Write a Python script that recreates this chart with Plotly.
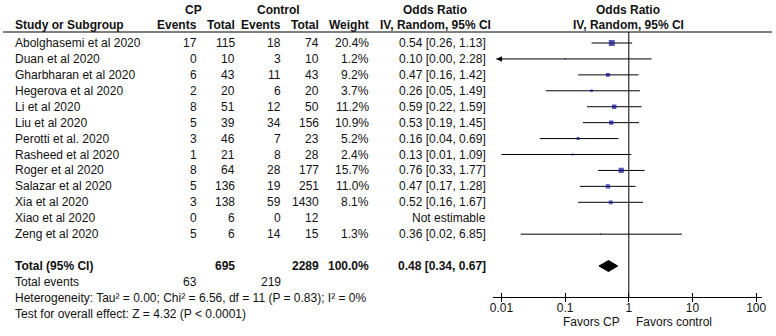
import math
import plotly.graph_objects as go

# ---------------- data ----------------
studies = ["Abolghasemi et al 2020", "Duan et al 2020", "Gharbharan et al 2020",
           "Hegerova et al 2020", "Li et al 2020", "Liu et al 2020",
           "Perotti et al. 2020", "Rasheed et al 2020", "Roger et al 2020",
           "Salazar et al 2020", "Xia et al 2020", "Xiao et al 2020", "Zeng et al 2020"]
cp_events = [17, 0, 6, 2, 8, 5, 3, 1, 8, 5, 3, 0, 5]
cp_total = [115, 10, 43, 20, 51, 39, 46, 21, 64, 136, 138, 6, 6]
ctrl_events = [18, 3, 11, 6, 12, 34, 7, 8, 28, 19, 59, 0, 14]
ctrl_total = [74, 10, 43, 20, 50, 156, 23, 28, 177, 251, 1430, 12, 15]
weights = [20.4, 1.2, 9.2, 3.7, 11.2, 10.9, 5.2, 2.4, 15.7, 11.0, 8.1, None, 1.3]
odds = [0.54, 0.10, 0.47, 0.26, 0.59, 0.53, 0.16, 0.13, 0.76, 0.47, 0.52, None, 0.36]
ci_low = [0.26, 0.00, 0.16, 0.05, 0.22, 0.19, 0.04, 0.01, 0.33, 0.17, 0.16, None, 0.02]
ci_high = [1.13, 2.28, 1.42, 1.49, 1.59, 1.45, 0.69, 1.09, 1.77, 1.28, 1.67, None, 6.85]

total_cp = 695
total_ctrl = 2289
total_weight = 100.0
total_or, total_lo, total_hi = 0.48, 0.34, 0.67
events_cp = 63
events_ctrl = 219
heterogeneity = "Heterogeneity: Tau² = 0.00; Chi² = 6.56, df = 11 (P = 0.83); I² = 0%"
overall = "Test for overall effect: Z = 4.32 (P < 0.0001)"

tick_vals = [0.01, 0.1, 1, 10, 100]
tick_text = ["0.01", "0.1", "1", "10", "100"]

# ---------------- layout helpers ----------------
W, H = 776, 336
ROW0, ROWH = 43.0, 15.93
def row_of(px):              # pixel (y) -> row units
    return (px - ROW0) / ROWH
def xp(px):                  # pixel (x) -> paper fraction
    return px / W

X_LO, X_HI = -2.1401, 2.0934          # log10 range of forest axis
FONT = "Arial, Liberation Sans, sans-serif"
TXT = "#111111"
BLUE = "#0A0A9E"

n = len(studies)
rows = list(range(n))
row_total = 14
row_events = 15
row_het = 16
row_test = 17
row_hdr1 = row_of(10)
row_hdr2 = row_of(24.5)
row_line = row_of(32)
row_axis = row_of(297)

fig = go.Figure()

# CI lines
clip_lo = 10 ** (X_LO + 0.06)
lx, ly = [], []
for i in rows:
    if odds[i] is None:
        continue
    lo = ci_low[i] if ci_low[i] >= clip_lo else clip_lo
    lx += [lo, ci_high[i], None]
    ly += [i, i, None]
fig.add_trace(go.Scatter(x=lx, y=ly, mode="lines", line=dict(color="black", width=1),
                         hoverinfo="skip", showlegend=False))

# arrows where CI is clipped
for i in rows:
    if odds[i] is not None and ci_low[i] < clip_lo:
        fig.add_annotation(x=math.log10(clip_lo), y=i, ax=math.log10(clip_lo) + 0.12, ay=i,
                           xref="x", yref="y", axref="x", ayref="y", text="",
                           showarrow=True, arrowhead=2, arrowsize=1.1, arrowwidth=1,
                           arrowcolor="black")

# vertical line of no effect
fig.add_trace(go.Scatter(x=[1, 1], y=[row_line, row_axis], mode="lines",
                         line=dict(color="black", width=1), hoverinfo="skip", showlegend=False))

# study squares
mx, my, ms = [], [], []
for i in rows:
    if odds[i] is None:
        continue
    mx.append(odds[i]); my.append(i); ms.append(1.3 * math.sqrt(weights[i]))
fig.add_trace(go.Scatter(x=mx, y=my, mode="markers",
                         marker=dict(symbol="square", size=ms, color=BLUE, line=dict(width=0)),
                         hoverinfo="skip", showlegend=False))

# pooled diamond
dh = 0.345
fig.add_trace(go.Scatter(x=[total_lo, total_or, total_hi, total_or, total_lo],
                         y=[row_total, row_total - dh, row_total, row_total + dh, row_total],
                         mode="lines", fill="toself", fillcolor="black",
                         line=dict(color="black", width=1), hoverinfo="skip", showlegend=False))

# ---------------- text table ----------------
def txt(px_x, row, s, anchor="right", bold=False, size=12):
    if bold:
        s = "<b>" + s + "</b>"
    fig.add_annotation(x=xp(px_x), y=row, xref="paper", yref="y", text=s, showarrow=False,
                       xanchor=anchor, yanchor="middle",
                       font=dict(family=FONT, size=size, color=TXT))

C_NAME, C_CPE, C_CPT, C_CE, C_CT, C_W, C_OR = 10, 198, 236, 283, 321, 371, 489

# headers
txt(192, row_hdr1, "CP", "center", True)
txt(278, row_hdr1, "Control", "center", True)
txt(436, row_hdr1, "Odds Ratio", "center", True)
txt(631, row_hdr1, "Odds Ratio", "center", True)
txt(C_NAME, row_hdr2, "Study or Subgroup", "left", True)
txt(C_CPE, row_hdr2, "Events", "right", True)
txt(C_CPT, row_hdr2, "Total", "right", True)
txt(C_CE, row_hdr2, "Events", "right", True)
txt(C_CT, row_hdr2, "Total", "right", True)
txt(C_W, row_hdr2, "Weight", "right", True)
txt(436, row_hdr2, "IV, Random, 95% CI", "center", True)
txt(631, row_hdr2, "IV, Random, 95% CI", "center", True)

for i in rows:
    txt(C_NAME, i, studies[i], "left")
    txt(C_CPE, i, str(cp_events[i]))
    txt(C_CPT, i, str(cp_total[i]))
    txt(C_CE, i, str(ctrl_events[i]))
    txt(C_CT, i, str(ctrl_total[i]))
    if weights[i] is not None:
        txt(C_W, i, f"{weights[i]:.1f}%")
        txt(C_OR, i, f"{odds[i]:.2f} [{ci_low[i]:.2f}, {ci_high[i]:.2f}]")
    else:
        txt(C_OR, i, "Not estimable")

txt(C_NAME, row_total, "Total (95% CI)", "left", True)
txt(C_CPT, row_total, str(total_cp), "right", True)
txt(C_CT, row_total, str(total_ctrl), "right", True)
txt(C_W, row_total, f"{total_weight:.1f}%", "right", True)
txt(C_OR, row_total, f"{total_or:.2f} [{total_lo:.2f}, {total_hi:.2f}]", "right", True)
txt(C_NAME, row_events, "Total events", "left")
txt(C_CPE, row_events, str(events_cp))
txt(C_CE, row_events, str(events_ctrl))
txt(C_NAME, row_het, heterogeneity, "left")
txt(C_NAME, row_test, overall, "left")

txt(625, row_of(321.5), "Favors CP", "right")
txt(637, row_of(321.5), "Favors control", "left")

# header rule
fig.add_shape(type="line", xref="paper", yref="y", x0=0, x1=1, y0=row_line, y1=row_line,
              line=dict(color="black", width=1))

dom = [xp(494), xp(766)]
pos = 1 - 297 / H
fig.update_layout(
    width=W, height=H, margin=dict(l=0, r=0, t=0, b=0),
    paper_bgcolor="white", plot_bgcolor="white", showlegend=False,
    # labelled axis: ticks pointing up (inside) so labels sit close to the line
    xaxis=dict(type="log", range=[X_LO, X_HI], domain=dom, anchor="free", position=pos,
               showline=True, linecolor="black", linewidth=1, ticks="inside", ticklen=4,
               tickcolor="black", tickvals=tick_vals, ticktext=tick_text, showgrid=False,
               zeroline=False, tickfont=dict(family=FONT, size=12, color=TXT)),
    # mirrored tick axis: ticks pointing down
    xaxis2=dict(type="log", range=[X_LO, X_HI], overlaying="x", anchor="free", position=pos,
                showline=False, ticks="outside", ticklen=4, tickcolor="black",
                tickvals=tick_vals, showticklabels=False, showgrid=False, zeroline=False),
    yaxis=dict(range=[row_of(H), row_of(0)], domain=[0, 1], visible=False,
               showgrid=False, zeroline=False),
)
# invisible trace so the mirrored tick axis renders
fig.add_trace(go.Scatter(x=[1], y=[row_total], xaxis="x2", yaxis="y", mode="markers",
                         marker=dict(opacity=0), hoverinfo="skip", showlegend=False))

fig.write_html("out.html", config={"displayModeBar": False},
               post_script="document.body.style.margin='0px';")
